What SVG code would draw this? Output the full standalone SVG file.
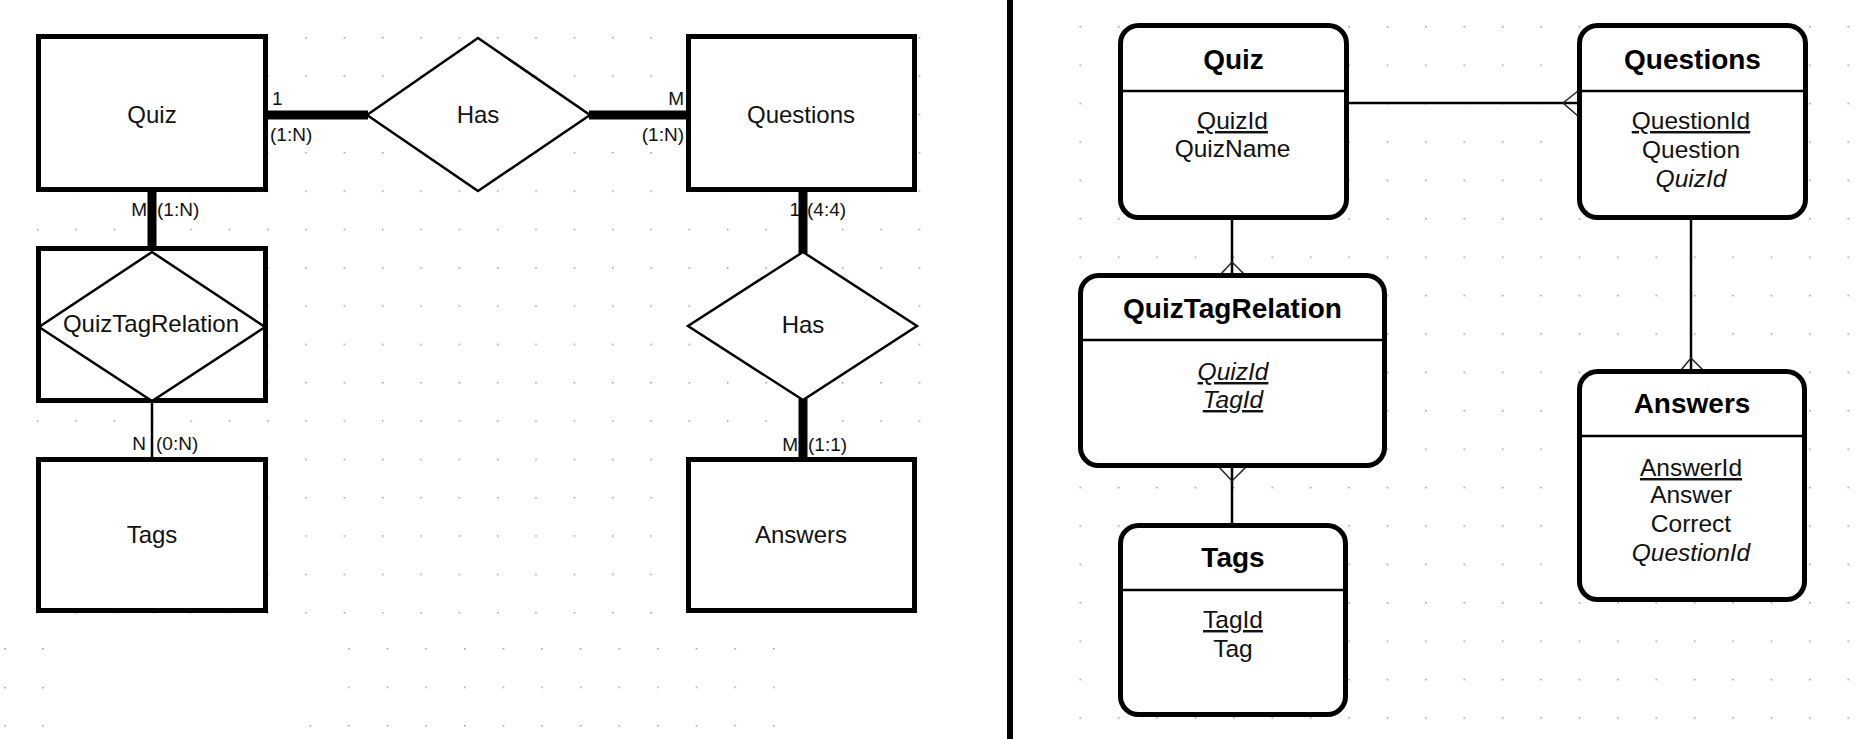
<svg xmlns="http://www.w3.org/2000/svg" width="1859" height="739" viewBox="0 0 1859 739">
<style>
  .ent { fill: #fff; stroke: #000; stroke-width: 5; }
  .dia { fill: #fff; stroke: #000; stroke-width: 2.5; stroke-linejoin: miter; }
  .thick { stroke: #000; stroke-width: 9; fill: none; }
  .thin { stroke: #000; stroke-width: 2.5; fill: none; }
  .crow { stroke: #222; stroke-width: 1.5; fill: none; }
  .tbl { fill: #fff; stroke: #000; stroke-width: 5; }
  .sep { stroke: #000; stroke-width: 2.5; }
  .lbl { font-family: "Liberation Sans", Arial, sans-serif; font-size: 24px; fill: #111; text-anchor: middle; }
  .card { font-family: "Liberation Sans", Arial, sans-serif; font-size: 19px; fill: #111; }
  .ttl { font-family: "Liberation Sans", Arial, sans-serif; font-size: 28px; font-weight: bold; fill: #000; text-anchor: middle; }
  .att { font-family: "Liberation Sans", Arial, sans-serif; font-size: 24.5px; fill: #111; text-anchor: middle; }
  .pk { text-decoration: underline; }
  .fk { font-style: italic; }
</style>
<defs>
  <pattern id="gridL" patternUnits="userSpaceOnUse" x="37" y="37" width="38.33" height="38.33">
    <rect x="0" y="0" width="1.5" height="1.5" fill="#999"/>
  </pattern>
  <pattern id="gridB" patternUnits="userSpaceOnUse" x="309.5" y="648" width="38.62" height="38.5">
    <rect x="0" y="0" width="1.5" height="1.5" fill="#999"/>
  </pattern>
  <pattern id="gridR" patternUnits="userSpaceOnUse" x="1079.5" y="26" width="38.4" height="38.4">
    <rect x="0" y="0" width="1.5" height="1.5" fill="#999"/>
  </pattern>
</defs>
<rect x="0" y="0" width="1859" height="739" fill="#fff"/>
<g id="grid">
  <rect x="30" y="30" width="896" height="415" fill="url(#gridL)"/>
  <rect x="30" y="445" width="632" height="176" fill="url(#gridL)"/>
  <rect x="340" y="640" width="440" height="60" fill="url(#gridB)"/>
  <rect x="305" y="720" width="475" height="12" fill="url(#gridB)"/>
  <rect x="4.5" y="648" width="1.5" height="1.5" fill="#999"/>
  <rect x="42" y="648" width="1.5" height="1.5" fill="#999"/>
  <rect x="4.5" y="687" width="1.5" height="1.5" fill="#999"/>
  <rect x="42" y="687" width="1.5" height="1.5" fill="#999"/>
  <rect x="4.5" y="725" width="1.5" height="1.5" fill="#999"/>
  <rect x="42" y="725" width="1.5" height="1.5" fill="#999"/>
  <rect x="1075" y="20" width="776" height="705" fill="url(#gridR)"/>
</g>
<line id="divider" x1="1010" y1="0" x2="1010" y2="739" stroke="#000" stroke-width="6"/>

<g id="connectors">
  <line class="thick" x1="264" y1="115" x2="368" y2="115"/>
  <line class="thick" x1="589" y1="115" x2="688" y2="115"/>
  <line class="thick" x1="152" y1="190" x2="152" y2="250"/>
  <line class="thin" x1="152" y1="401" x2="152" y2="459"/>
  <line class="thick" x1="803" y1="190" x2="803" y2="253"/>
  <line class="thick" x1="803" y1="399" x2="803" y2="464"/>
  <line class="thin" x1="1349" y1="103" x2="1578" y2="103"/>
  <path class="crow" d="M1578 91 L1563 103 L1578 116"/>
  <line class="thin" x1="1232" y1="219" x2="1232" y2="274"/>
  <path class="crow" d="M1221 274 L1232 262 L1244 274"/>
  <line class="thin" x1="1232" y1="467" x2="1232" y2="524"/>
  <path class="crow" d="M1219 467 L1232 481 L1246 467"/>
  <line class="thin" x1="1691" y1="219" x2="1691" y2="370"/>
  <path class="crow" d="M1681 370 L1691 358 L1703 370"/>
</g>

<g id="er-labels">
  <text class="card" x="272" y="105">1</text>
  <text class="card" x="270" y="141">(1:N)</text>
  <text class="card" x="684" y="105" text-anchor="end">M</text>
  <text class="card" x="684" y="141" text-anchor="end">(1:N)</text>
  <text class="card" x="147" y="216" text-anchor="end">M</text>
  <text class="card" x="157" y="216">(1:N)</text>
  <text class="card" x="800" y="216" text-anchor="end">1</text>
  <text class="card" x="807" y="216">(4:4)</text>
  <text class="card" x="146" y="450" text-anchor="end">N</text>
  <text class="card" x="156" y="450">(0:N)</text>
  <text class="card" x="798" y="451" text-anchor="end">M</text>
  <text class="card" x="808" y="451">(1:1)</text>
</g>

<g id="er-quiz">
  <rect class="ent" x="38.5" y="36.5" width="227" height="153"/>
  <text class="lbl" x="152" y="123">Quiz</text>
</g>
<g id="er-has1">
  <polygon class="dia" points="478,38 590,115 478,191 367,115"/>
  <text class="lbl" x="478" y="123">Has</text>
</g>
<g id="er-questions">
  <rect class="ent" x="688.5" y="36.5" width="226" height="153"/>
  <text class="lbl" x="801" y="123">Questions</text>
</g>
<g id="er-quiztagrelation">
  <rect class="ent" x="38.5" y="248.5" width="227" height="152"/>
  <polygon class="dia" points="152,252 265,327 152,401 39,327"/>
  <text class="lbl" x="151" y="332">QuizTagRelation</text>
</g>
<g id="er-tags">
  <rect class="ent" x="38.5" y="459.5" width="227" height="151"/>
  <text class="lbl" x="152" y="543">Tags</text>
</g>
<g id="er-has2">
  <polygon class="dia" points="803,252 917,326 803,400 688,326"/>
  <text class="lbl" x="803" y="333">Has</text>
</g>
<g id="er-answers">
  <rect class="ent" x="688.5" y="459.5" width="226" height="151"/>
  <text class="lbl" x="801" y="543">Answers</text>
</g>

<g id="tbl-quiz">
  <rect class="tbl" x="1120.5" y="25.5" width="226" height="192" rx="18"/>
  <line class="sep" x1="1121" y1="91" x2="1346" y2="91"/>
  <text class="ttl" x="1233.5" y="69">Quiz</text>
  <text class="att pk" x="1232.5" y="129">QuizId</text>
  <text class="att" x="1232.5" y="157">QuizName</text>
</g>
<g id="tbl-questions">
  <rect class="tbl" x="1579.5" y="25.5" width="226" height="192" rx="18"/>
  <line class="sep" x1="1580" y1="91" x2="1805" y2="91"/>
  <text class="ttl" x="1692.5" y="69">Questions</text>
  <text class="att pk" x="1691" y="129">QuestionId</text>
  <text class="att" x="1691" y="158">Question</text>
  <text class="att fk" x="1691" y="187">QuizId</text>
</g>
<g id="tbl-quiztagrelation">
  <rect class="tbl" x="1080.5" y="275.5" width="304" height="190" rx="18"/>
  <line class="sep" x1="1081" y1="340" x2="1384" y2="340"/>
  <text class="ttl" x="1232.5" y="318">QuizTagRelation</text>
  <text class="att pk fk" x="1233" y="380">QuizId</text>
  <text class="att pk fk" x="1233" y="408">TagId</text>
</g>
<g id="tbl-tags">
  <rect class="tbl" x="1120.5" y="525.5" width="225" height="189" rx="18"/>
  <line class="sep" x1="1121" y1="590" x2="1345" y2="590"/>
  <text class="ttl" x="1233" y="567">Tags</text>
  <text class="att pk" x="1233" y="628">TagId</text>
  <text class="att" x="1233" y="657">Tag</text>
</g>
<g id="tbl-answers">
  <rect class="tbl" x="1579.5" y="371.5" width="225" height="228" rx="18"/>
  <line class="sep" x1="1580" y1="436" x2="1804" y2="436"/>
  <text class="ttl" x="1692" y="413">Answers</text>
  <text class="att pk" x="1691" y="476">AnswerId</text>
  <text class="att" x="1691" y="503">Answer</text>
  <text class="att" x="1691" y="532">Correct</text>
  <text class="att fk" x="1691" y="561">QuestionId</text>
</g>
</svg>
